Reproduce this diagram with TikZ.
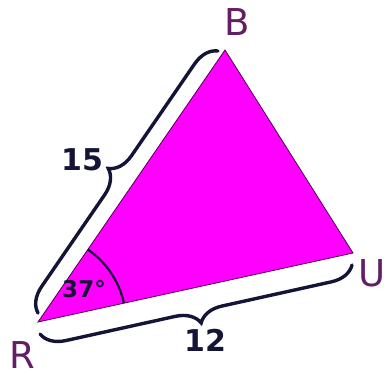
\documentclass[tikz,border=0pt]{standalone}
\usepackage{fontspec}
\setmainfont{DejaVu Sans}
\usetikzlibrary{decorations.pathreplacing}
\usetikzlibrary{calc}

\definecolor{vertexpurple}{RGB}{100,30,100}
\definecolor{bracenavy}{RGB}{20,20,55}
\definecolor{trianglefill}{RGB}{255,0,255}

\begin{document}
\begin{tikzpicture}[x=1pt, y=-1pt,
  side brace/.style={draw=bracenavy, line width=3.4pt, line cap=round, decorate, decoration={brace, amplitude=24pt}},
  vertex label/.style={text=vertexpurple, font=\fontsize{37}{37}\selectfont, inner sep=0pt},
  side label/.style={text=bracenavy, font=\bfseries\fontsize{30}{30}\selectfont, inner sep=0pt}]

        \useasboundingbox (0,0) rectangle (388,377);

        % Corners of the triangle
        \coordinate (R) at (38,322);
        \coordinate (B) at (225,50);
        \coordinate (U) at (353,253);

        % Filled triangle
        \fill[trianglefill, draw=violet!60!black, line width=0.8pt] (R) -- (B) -- (U) -- cycle;

        % Angle at R
        \draw[bracenavy, line width=2.2pt] (R) ++(-12.4:88) arc[start angle=-12.4, end angle=-55.5, radius=88];

        % Brace along RB
        \coordinate (rb1) at (38,313);
        \coordinate (rb2) at (218,51);
        \draw[side brace] (rb1) -- (rb2);

        % Brace along RU
        \coordinate (ru1) at (352,265);
        \coordinate (ru2) at (40,334);
        \draw[side brace] (ru1) -- (ru2);

        % Labels
        \node[vertex label] (labR) at (22,355) {R};
        \node[vertex label] (labB) at (237,22) {B};
        \node[vertex label] (labU) at (372,273) {U};
        \node[side label] (len15) at (82,160) {15};
        \node[side label] (len12) at (205,340) {12};
        \node[side label, font=\bfseries\fontsize{23}{23}\selectfont] (ang) at (84,289) {37°};

      \end{tikzpicture}
\end{document}
